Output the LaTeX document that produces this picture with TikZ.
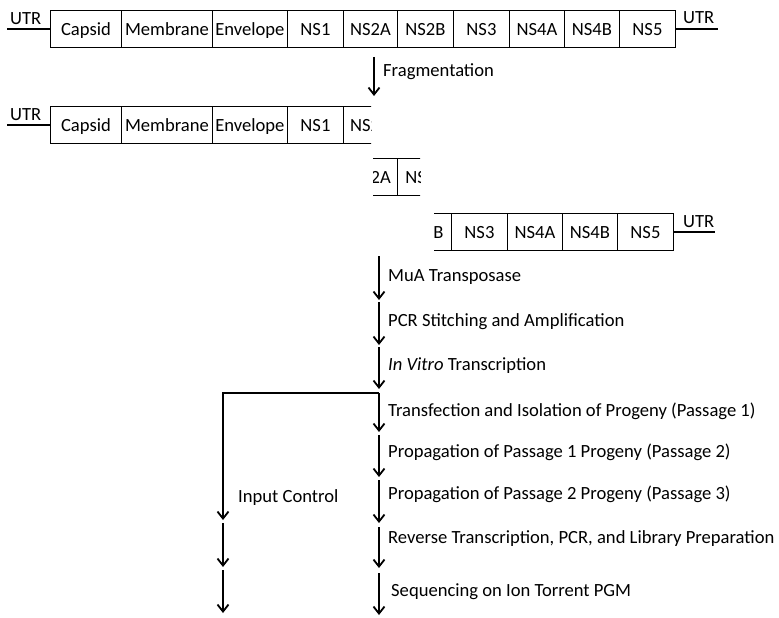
\documentclass[tikz,border=0pt]{standalone}
\usepackage{fontspec}
\setmainfont{Carlito}
\usetikzlibrary{arrows.meta}

\begin{document}
\begin{tikzpicture}[x=1pt, y=-1pt,
    every node/.style={font=\fontsize{18.6}{22}\selectfont},
    gene/.style={rectangle, draw, line width=0.9pt, anchor=west, minimum height=37pt, inner sep=0pt, text height=13pt, text depth=0pt},
    utr/.style={line width=1.8pt},
    arrow/.style={-{Straight Barb[length=7pt,width=11pt]}, line width=1.8pt},
    steplabel/.style={anchor=west, inner sep=0pt}
]
\useasboundingbox (0,0) rectangle (779,618);

% Full genome
\foreach \g/\ga/\gb in {Capsid/50/121, Membrane/121/212, Envelope/212/287, NS1/287/343, NS2A/343/397, NS2B/397/453, NS3/453/509, NS4A/509/564, NS4B/564/619, NS5/619/675} {
    \node[gene, minimum width={(\gb-\ga)*1pt}] (a-\g) at (\ga,29) {\g};
}
\coordinate (a-utrL) at (7,29);
\coordinate (a-utrR) at (718,29);
\draw[utr] (a-utrL) -- (a-Capsid.west);
\draw[utr] (a-NS5.east) -- (a-utrR);
\node[anchor=base west, inner sep=0pt] (a-utrLt) at (10,25) {UTR};
\node[anchor=base west, inner sep=0pt] (a-utrRt) at (683,24) {UTR};

% Fragmentation
\coordinate (fragT) at (374,57);
\coordinate (fragB) at (374,96);
\draw[arrow] (fragT) -- (fragB);
\node[steplabel] (frag) at (383,72) {Fragmentation};

% Fragment 1
\begin{scope}
\clip (0,100) rectangle (371,150);
\foreach \g/\ga/\gb in {Capsid/50/121, Membrane/121/212, Envelope/212/287, NS1/287/343, NS2A/343/397} {
    \node[gene, minimum width={(\gb-\ga)*1pt}] (b-\g) at (\ga,125) {\g};
}
\end{scope}
\coordinate (b-utrL) at (7,125);
\draw[utr] (b-utrL) -- (b-Capsid.west);
\node[anchor=base west, inner sep=0pt] (b-utrLt) at (10,120) {UTR};

% Fragment 2
\begin{scope}
\clip (373,150) rectangle (420,205);
\foreach \g/\ga/\gb in {NS2A/343/397, NS2B/397/453} {
    \node[gene, minimum width={(\gb-\ga)*1pt}] (c-\g) at (\ga,177) {\g};
}
\end{scope}

% Fragment 3
\begin{scope}
\clip (434,205) rectangle (779,258);
\foreach \g/\ga/\gb in {NS2B/395/451, NS3/451/507, NS4A/507/562, NS4B/562/617, NS5/617/673} {
    \node[gene, minimum width={(\gb-\ga)*1pt}] (d-\g) at (\ga,232) {\g};
}
\end{scope}
\coordinate (d-utrR) at (715,232);
\draw[utr] (d-NS5.east) -- (d-utrR);
\node[anchor=base west, inner sep=0pt] (d-utrRt) at (683,227) {UTR};

% Workflow arrows
\foreach \i/\ya/\yb in {1/256/300, 2/302/345, 3/347/389, 4/393/432, 5/435/477, 6/480/523, 7/527/568, 8/573/615} {
    \coordinate (t\i) at (379,\ya);
    \coordinate (e\i) at (379,\yb);
    \draw[arrow] (t\i) -- (e\i);
}

\node[steplabel] (mua) at (388,277) {MuA Transposase};
\node[steplabel] (pcr) at (388,322) {PCR Stitching and Amplification};
\node[steplabel] (ivt) at (388,366) {\textit{In Vitro} Transcription};
\node[steplabel] (p1) at (388,411) {Transfection and Isolation of Progeny (Passage 1)};
\node[steplabel] (p2) at (388,452) {Propagation of Passage 1 Progeny (Passage 2)};
\node[steplabel] (p3) at (388,494) {Propagation of Passage 2 Progeny (Passage 3)};
\node[steplabel] (lib) at (388,539) {Reverse Transcription, PCR, and Library Preparation};
\node[steplabel] (seq) at (391,592) {Sequencing on Ion Torrent PGM};

% Input control branch
\coordinate (br) at (223,393);
\coordinate (ic1) at (223,520);
\coordinate (ic2) at (223,523);
\coordinate (ic3) at (223,567);
\coordinate (ic4) at (223,570);
\coordinate (ic5) at (223,613);
\draw[arrow] (t4) -- (br) -- (ic1);
\draw[arrow] (ic2) -- (ic3);
\draw[arrow] (ic4) -- (ic5);
\node[steplabel] (input) at (238,498) {Input Control};

\end{tikzpicture}
\end{document}
